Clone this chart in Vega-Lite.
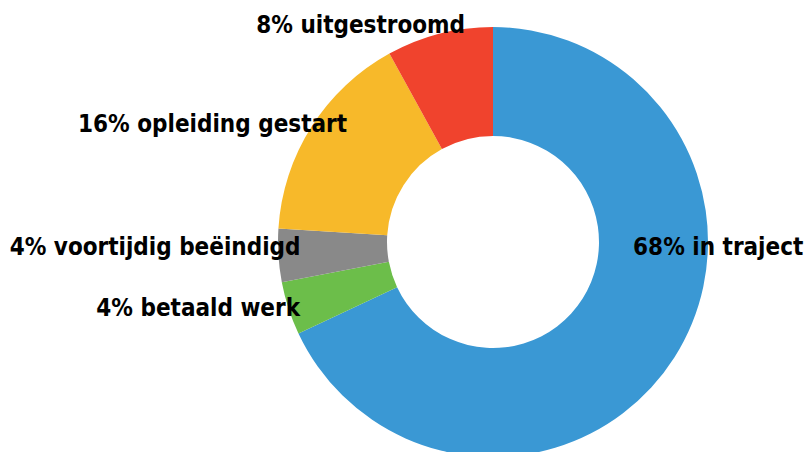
{
  "$schema": "https://vega.github.io/schema/vega-lite/v6.json",
  "autosize": {"type": "none"},
  "width": 632,
  "height": 420,
  "padding": {"left": 177, "top": 32, "right": 0, "bottom": 0},
  "background": "white",
  "view": {"stroke": null},
  "data": {"values": [
    {"idx": 1, "cat": "in traject", "value": 68, "label": "68% in traject"},
    {"idx": 2, "cat": "betaald werk", "value": 4, "label": "4% betaald werk"},
    {"idx": 3, "cat": "voortijdig beëindigd", "value": 4, "label": "4% voortijdig beëindigd"},
    {"idx": 4, "cat": "opleiding gestart", "value": 16, "label": "16% opleiding gestart"},
    {"idx": 5, "cat": "uitgestroomd", "value": 8, "label": "8% uitgestroomd"}
  ]},
  "encoding": {
    "theta": {"field": "value", "type": "quantitative", "stack": true},
    "order": {"field": "idx", "type": "quantitative", "sort": "ascending"}
  },
  "layer": [
    {
      "mark": {"type": "arc", "outerRadius": 215, "innerRadius": 106},
      "encoding": {
        "color": {"field": "cat", "type": "nominal", "legend": null,
          "scale": {"domain": ["in traject", "betaald werk", "voortijdig beëindigd", "opleiding gestart", "uitgestroomd"],
                    "range": ["#3A98D4", "#6CBE4A", "#898989", "#F7B92A", "#F0432D"]}}
      }
    },
    {
      "mark": {"type": "text", "radius": 160, "align": "left", "baseline": "alphabetic", "dx": 5, "dy": -73, "font": "DejaVu Sans Condensed, Roboto, sans-serif", "fontWeight": "bold", "fontSize": 24, "color": "black"},
      "encoding": {"text": {"condition": {"test": "datum.idx === 1", "field": "label"}, "value": ""}}
    },
    {
      "mark": {"type": "text", "radius": 225, "align": "right", "baseline": "alphabetic", "dx": 21, "dy": 4, "font": "DejaVu Sans Condensed, Roboto, sans-serif", "fontWeight": "bold", "fontSize": 24, "color": "black"},
      "encoding": {"text": {"condition": {"test": "datum.idx === 2", "field": "label"}, "value": ""}}
    },
    {
      "mark": {"type": "text", "radius": 225, "align": "right", "baseline": "alphabetic", "dx": 32, "dy": -1, "font": "DejaVu Sans Condensed, Roboto, sans-serif", "fontWeight": "bold", "fontSize": 24, "color": "black"},
      "encoding": {"text": {"condition": {"test": "datum.idx === 3", "field": "label"}, "value": ""}}
    },
    {
      "mark": {"type": "text", "radius": 225, "align": "right", "baseline": "alphabetic", "dx": 44, "dy": 11, "font": "DejaVu Sans Condensed, Roboto, sans-serif", "fontWeight": "bold", "fontSize": 24, "color": "black"},
      "encoding": {"text": {"condition": {"test": "datum.idx === 4", "field": "label"}, "value": ""}}
    },
    {
      "mark": {"type": "text", "radius": 225, "align": "right", "baseline": "alphabetic", "dx": 28, "dy": 9, "font": "DejaVu Sans Condensed, Roboto, sans-serif", "fontWeight": "bold", "fontSize": 24, "color": "black"},
      "encoding": {"text": {"condition": {"test": "datum.idx === 5", "field": "label"}, "value": ""}}
    }
  ]
}
